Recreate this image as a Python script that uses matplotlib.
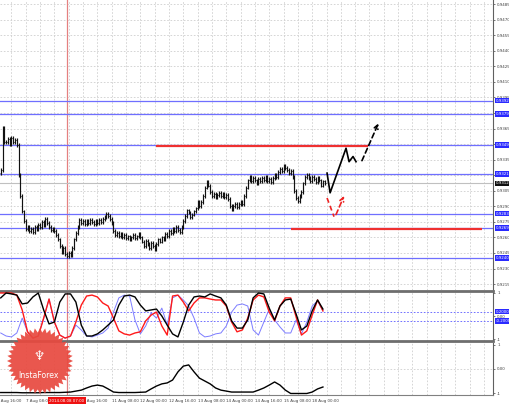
import numpy as np
import matplotlib
matplotlib.use('Agg')
import matplotlib.pyplot as plt
import matplotlib.transforms as mtransforms

# ---------------- data ----------------
closes = [
    0.9325, 0.9366, 0.9352, 0.9352, 0.9355, 0.9350, 0.9356, 0.9352, 0.9354, 0.9349,
    0.9320, 0.9300, 0.9285, 0.9276, 0.9268, 0.9270, 0.9266, 0.9268, 0.9265, 0.9270,
    0.9268, 0.9272, 0.9270, 0.9275, 0.9272, 0.9278, 0.9274, 0.9270, 0.9267, 0.9268,
    0.9266, 0.9262, 0.9258, 0.9252, 0.9246, 0.9250, 0.9244, 0.9242, 0.9245, 0.9243,
    0.9250, 0.9258, 0.9264, 0.9270, 0.9277, 0.9274, 0.9276, 0.9273, 0.9276, 0.9274,
    0.9277, 0.9275, 0.9273, 0.9276, 0.9274, 0.9277, 0.9275, 0.9278, 0.9280, 0.9283,
    0.9281, 0.9278, 0.9274, 0.9266, 0.9262, 0.9264, 0.9261, 0.9263, 0.9260, 0.9262,
    0.9259, 0.9261, 0.9258, 0.9260, 0.9262, 0.9259, 0.9261, 0.9263, 0.9260, 0.9256,
    0.9252, 0.9257, 0.9254, 0.9250, 0.9255, 0.9252, 0.9249, 0.9254, 0.9258, 0.9256,
    0.9260, 0.9258, 0.9263, 0.9261, 0.9266, 0.9264, 0.9268, 0.9266, 0.9270, 0.9267,
    0.9265, 0.9270, 0.9276, 0.9281, 0.9286, 0.9284, 0.9280, 0.9282, 0.9285, 0.9288,
    0.9294, 0.9290, 0.9294, 0.9300, 0.9308, 0.9314, 0.9310, 0.9304, 0.9300, 0.9302,
    0.9299, 0.9301, 0.9303, 0.9300, 0.9302, 0.9299, 0.9301, 0.9297, 0.9290, 0.9287,
    0.9290, 0.9292, 0.9289, 0.9292, 0.9294, 0.9292, 0.9300, 0.9308, 0.9315, 0.9318,
    0.9314, 0.9317, 0.9315, 0.9312, 0.9316, 0.9314, 0.9317, 0.9315, 0.9318, 0.9314,
    0.9316, 0.9313, 0.9317, 0.9320, 0.9318, 0.9323, 0.9326, 0.9324, 0.9329, 0.9327,
    0.9325, 0.9322, 0.9324, 0.9318, 0.9305, 0.9298, 0.9295, 0.9300, 0.9304, 0.9312,
    0.9318, 0.9320, 0.9317, 0.9314, 0.9318, 0.9316, 0.9313, 0.9317, 0.9315, 0.9310,
    0.9314, 0.9312]

osc_step = 3
osc_black = [0.79, 1.0, 0.96, 0.91, 0.53, 0.57, 0.83, 1.0, 0.27, -0.33,
             -0.25, 0.61, 0.96, 0.96, 0.61, -0.38, -0.85, -0.85, -0.76, -0.59,
             -0.38, -0.16, 0.48, 0.87, 0.91, 0.83, 0.48, 0.23, 0.27, 0.31,
             0.01, -0.38, -0.76, -0.89, -0.25, 0.48, 0.83, 0.87, 0.83, 0.96,
             0.87, 0.79, 0.48, -0.20, -0.51, -0.51, -0.16, 0.79, 1.0, 0.96,
             0.35, -0.16, 0.44, 0.70, 0.74, 0.10, -0.59, -0.42, 0.23, 0.70, 0.31]
osc_red = [1.0, 1.0, 1.0, 0.91, 0.27, -0.67, -0.94, -0.85, -0.08, 0.74,
           -0.25, -0.81, -0.94, -0.85, -0.25, 0.48, 0.87, 0.91, 0.83, 0.57,
           0.44, -0.08, -0.63, -0.76, -0.81, -0.72, -0.67, -0.20, 0.05, 0.18,
           -0.42, -0.81, 0.87, 0.91, 0.61, 0.23, 0.57, 0.79, 0.79, 0.74,
           0.70, 0.70, 0.44, -0.25, -0.67, -0.59, -0.08, 0.70, 0.91, 0.83,
           0.18, -0.20, 0.44, 0.79, 0.79, -0.03, -0.81, -0.63, 0.05, 0.70, 0.23]
osc_blue = [-0.72, -0.85, -0.89, -0.72, -0.08, -0.67, -0.94, -0.85, -0.08, 0.74,
            -0.25, -0.81, -0.94, -0.85, -0.38, -0.59, -0.85, -0.89, -0.81, -0.72,
            -0.51, 0.18, 0.79, 0.91, 0.87, -0.16, -0.76, -0.42, 0.14, -0.08,
            0.35, -0.38, 0.79, 0.91, 0.70, 0.44, -0.08, -0.72, -0.89, -0.85,
            -0.76, -0.72, -0.42, 0.18, 0.48, 0.53, 0.44, -0.59, -0.81, -0.25,
            0.31, -0.16, -0.46, -0.72, -0.72, -0.16, -0.76, -0.25, 0.44, 0.66, 0.23]
lower_line = [-0.98, -0.98, -0.98, -0.98, -0.99, -0.99, -0.99, -0.99, -0.98, -0.98,
              -0.98, -0.98, -0.97, -0.96, -0.92, -0.88, -0.79, -0.71, -0.67, -0.71,
              -0.83, -0.96, -0.98, -0.98, -0.98, -0.98, -0.97, -0.96, -0.83, -0.71,
              -0.62, -0.58, -0.46, -0.12, 0.12, 0.17, -0.12, -0.38, -0.50, -0.62,
              -0.79, -0.88, -0.92, -0.96, -0.96, -0.96, -0.96, -0.96, -0.88, -0.79,
              -0.67, -0.54, -0.67, -0.88, -1.02, -1.02, -1.02, -1.02, -0.96, -0.83, -0.75]

blue_levels = [0.9392, 0.9379, 0.9349, 0.9321, 0.9283, 0.9269, 0.9240]
current_price = 0.9312
red_levels = [0.9348, 0.9268]
red_level_spans = [(87, 205), (162, 269)]

price_ticks = [0.9485, 0.9470, 0.9455, 0.9440, 0.9425, 0.9410, 0.9395, 0.9380,
               0.9365, 0.9350, 0.9335, 0.9320, 0.9305, 0.9290, 0.9275, 0.9260,
               0.9245, 0.9230, 0.9215]
hidden_price_ticks = [0.9380, 0.9350, 0.9320]   # covered by level boxes

xtick_bars = [-2, 14, 46, 62, 78, 94, 110, 126, 142, 158, 174]
xtick_labels = ['6 Aug 16:00', '7 Aug 08:00', '8 Aug 16:00',
                '11 Aug 08:00', '12 Aug 00:00', '12 Aug 16:00', '13 Aug 08:00',
                '14 Aug 00:00', '14 Aug 16:00', '15 Aug 08:00', '18 Aug 00:00']
crosshair_bar = 37
crosshair_label = '2014.08.08 07:00'

proj_black_bars = [182.3, 184.0, 192.9, 194.6, 196.8, 198.5]
proj_black_prices = [0.9322, 0.9303, 0.9346, 0.9333, 0.9338, 0.9333]
proj_black_dash = [(201.8, 0.9334), (211.0, 0.9370)]
proj_red_bars = [182.3, 186.2]
proj_red_prices = [0.9298, 0.9280]
proj_red_arrow = [(187.3, 0.9282), (191.8, 0.9300)]

# ---------------- layout ----------------
W, H = 510, 405
fig = plt.figure(figsize=(W / 100, H / 100), dpi=100)
fig.patch.set_facecolor('white')

def rect(top, bottom):
    return [0, 1 - bottom / H, 493 / W, (bottom - top) / H]

ax1 = fig.add_axes(rect(0, 290))
ax2 = fig.add_axes(rect(291, 341))
ax3 = fig.add_axes(rect(343, 395))

XL = (-0.4, 275)
grid_bars = np.arange(6, 276, 8)
gcol = '#cfcfcf'
lab_col = '#404040'
fs = 2.9

for ax in (ax1, ax2, ax3):
    ax.set_xlim(*XL)
    ax.set_facecolor('white')
    for b in grid_bars:
        ax.axvline(b, color=gcol, lw=0.6, ls=(0, (2, 2)), zorder=0)
    ax.set_xticks([])
    ax.tick_params(axis='y', left=False, labelleft=False, right=True,
                   labelright=True, length=1.5, width=0.5, pad=1.5,
                   labelsize=fs, colors=lab_col)
    for s in ('left', 'top', 'bottom'):
        ax.spines[s].set_visible(False)
    ax.spines['right'].set_color('#606060')
    ax.spines['right'].set_linewidth(0.8)
    ax.axvline(crosshair_bar, color='#e58080', lw=0.9, zorder=1)

# ---- main price panel ----
ax1.set_ylim(0.92093, 0.94889)
ax1.set_yticks(price_ticks)
ax1.set_yticklabels(['' if t in hidden_price_ticks else f'{t:.4f}' for t in price_ticks])
for t in price_ticks:
    ax1.axhline(t, color=gcol, lw=0.6, ls=(0, (2, 2)), zorder=0)

ax1.axhline(current_price, color='#c0c0c0', lw=0.8, zorder=1)
for lv in blue_levels:
    ax1.axhline(lv, color='#6f6fff', lw=0.9, zorder=2)
for lv, (b0, b1) in zip(red_levels, red_level_spans):
    ax1.hlines(lv, b0, b1, color='#ef3030', lw=1.6, zorder=2)

bars = np.arange(len(closes))
c = np.array(closes)
o = np.concatenate([[c[0] - 0.0003], c[:-1]])
wick = 0.00018
hi = np.maximum(o, c) + wick
lo = np.minimum(o, c) - wick
ax1.vlines(bars, lo, hi, color='#111111', lw=0.85, zorder=3)
ax1.hlines(o, bars - 0.45, bars, color='#111111', lw=0.5, zorder=3)
ax1.hlines(c, bars, bars + 0.45, color='#111111', lw=0.5, zorder=3)

# projections
ax1.plot(proj_black_bars, proj_black_prices, color='black', lw=1.2, zorder=4)
ax1.annotate('', xy=proj_black_dash[1], xytext=proj_black_dash[0],
             arrowprops=dict(arrowstyle='->', color='black', lw=1.2,
                             linestyle=(0, (3, 2)), mutation_scale=7,
                             shrinkA=0, shrinkB=0), zorder=4)
ax1.plot(proj_red_bars, proj_red_prices, color='#ee2222', lw=1.2,
         ls=(0, (3, 2)), zorder=4)
ax1.annotate('', xy=proj_red_arrow[1], xytext=proj_red_arrow[0],
             arrowprops=dict(arrowstyle='->', color='#ee2222', lw=1.2,
                             linestyle=(0, (3, 2)), mutation_scale=7,
                             shrinkA=0, shrinkB=0), zorder=4)

trans1 = mtransforms.blended_transform_factory(ax1.transAxes, ax1.transData)
xbox = 1.0 + 2.5 / 493
for lv in blue_levels:
    ax1.text(xbox, lv, f'{lv:.4f}', transform=trans1, fontsize=fs, color='white',
             ha='left', va='center', clip_on=False, zorder=6,
             bbox=dict(boxstyle='square,pad=0.2', fc='#2a2aff', ec='none'))
ax1.text(xbox, current_price, f'{current_price:.4f}', transform=trans1, fontsize=fs,
         color='white', ha='left', va='center', clip_on=False, zorder=7,
         bbox=dict(boxstyle='square,pad=0.2', fc='#101010', ec='none'))

# ---- oscillator panel ----
osc_x = np.arange(len(osc_black)) * osc_step
ax2.set_ylim(-1.065, 1.086)
ax2.set_yticks([1, 0, -1])
ax2.set_yticklabels(['1', '0.00', '-1'])
for lv in (0.2, -0.2):
    ax2.axhline(lv, color='#5a5aff', lw=0.6, ls=(0, (2, 2)), zorder=1)
ax2.plot(osc_x, osc_blue, color='#7c7cff', lw=0.7, zorder=2)
ax2.plot(osc_x, osc_red, color='#ff1a1a', lw=1.0, zorder=3)
ax2.plot(osc_x, osc_black, color='black', lw=1.0, zorder=4)
for s in ('top', 'bottom'):
    ax2.spines[s].set_visible(True)
    ax2.spines[s].set_color('#6e6e6e')
    ax2.spines[s].set_linewidth(2.0)
trans2 = mtransforms.blended_transform_factory(ax2.transAxes, ax2.transData)
for lv, txt in ((0.2, '0.2000'), (-0.2, '-0.2000')):
    ax2.text(xbox, lv, txt, transform=trans2, fontsize=fs, color='white',
             ha='left', va='center', clip_on=False, zorder=6,
             bbox=dict(boxstyle='square,pad=0.2', fc='#2a2aff', ec='none'))

# ---- lower panel ----
ax3.set_ylim(-1.083, 1.083)
ax3.set_yticks([1, 0, -1])
ax3.set_yticklabels(['1', '0.00', '-1'])
ax3.axhline(0, color=gcol, lw=0.6, ls=(0, (2, 2)), zorder=0)
ax3.plot(osc_x, lower_line, color='black', lw=1.0, zorder=3)
ax3.spines['bottom'].set_visible(True)
ax3.spines['bottom'].set_color('#808080')
ax3.spines['bottom'].set_linewidth(0.8)

trans3 = mtransforms.blended_transform_factory(ax3.transData, ax3.transAxes)
for b, lab in zip(xtick_bars, xtick_labels):
    ax3.text(b, -0.07, lab, transform=trans3, fontsize=fs, color=lab_col,
             ha='left', va='top', clip_on=False)
ax3.text(crosshair_bar, -0.07, crosshair_label, transform=trans3, fontsize=fs,
         color='white', ha='center', va='top', clip_on=False, zorder=8,
         bbox=dict(boxstyle='square,pad=0.3', fc='#ee1111', ec='none'))

# ---- logo overlay ----
ov = fig.add_axes([0, 0, 1, 1])
ov.set_xlim(0, W)
ov.set_ylim(H, 0)
ov.axis('off')
ov.patch.set_alpha(0)
n = 40
ang = np.linspace(0, 2 * np.pi, 2 * n, endpoint=False)
rad = np.where(np.arange(2 * n) % 2 == 0, 33, 28.5)
cx, cy = 40, 361
ov.fill(cx + rad * np.cos(ang), cy + rad * np.sin(ang), color='#e8493f',
        alpha=0.92, lw=0, zorder=10)
ov.text(cx - 1, cy + 14, 'InstaForex', color='white', fontsize=5.6,
        ha='center', va='center', zorder=11)
ov.text(cx - 1, cy - 4, '\u2646', color='white', fontsize=9,
        ha='center', va='center', zorder=11)

fig.savefig('out.png', dpi=100)
